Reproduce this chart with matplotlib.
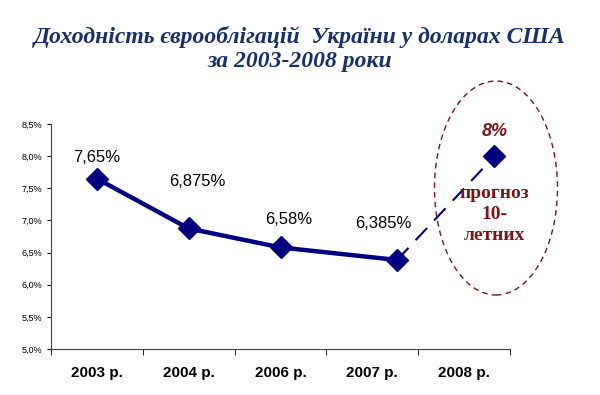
import matplotlib
matplotlib.use("Agg")
import matplotlib.pyplot as plt
import matplotlib.patches as patches

# Dati
anni = ["2003 р.", "2004 р.", "2006 р.", "2007 р.", "2008 р."]
pos_x = [0, 1, 2, 3.27, 4.33]          # i punti nell'originale non stanno al centro delle categorie
rendimento = [7.65, 6.875, 6.58, 6.385, 8.0]
etichette = ["7,65%", "6,875%", "6,58%", "6,385%"]
yticks = [5.0, 5.5, 6.0, 6.5, 7.0, 7.5, 8.0, 8.5]

navy = "#000080"
rosso = "#7B1518"

fig = plt.figure(figsize=(6, 3.95), dpi=100)
ax = fig.add_axes([0.085, 0.1165, 0.765, 0.5695])

# linea continua per i dati storici, tratteggiata per la previsione
ax.plot(pos_x[:4], rendimento[:4], color=navy, lw=3.2, marker="D", ms=11, zorder=3)
ax.plot(pos_x[3:], rendimento[3:], color=navy, lw=1.5, ls=(0, (8, 5)), zorder=2)
ax.plot(pos_x[4:], rendimento[4:], color=navy, marker="D", ms=11, ls="none", zorder=3)

# etichette dei valori
offsets = [(0, 15), (6, 34), (6, 20), (-10, 26)]
for x, y, t, (dx, dy) in zip(pos_x, rendimento, etichette, offsets):
    ax.annotate(t, (x, y), xytext=(dx, dy), textcoords="offset points",
                ha="center", va="center", fontsize=12, family="Liberation Sans")

ax.annotate("8%", (pos_x[4], rendimento[4]), xytext=(0, 18), textcoords="offset points",
            ha="center", va="center", fontsize=13, fontweight="bold", style="italic",
            color=rosso, family="Liberation Sans")
ax.annotate("прогноз\n10-\nлетних", (pos_x[4], rendimento[4]), xytext=(0, -42),
            textcoords="offset points", ha="center", va="center", fontsize=14,
            fontweight="bold", color=rosso, family="Liberation Serif", linespacing=1.3)

ax.set_xlim(-0.5, 4.5)
ax.set_ylim(5.0, 8.5)
ax.set_xticks([0, 1, 2, 3, 4])
ax.set_xticklabels(anni, fontsize=11, fontweight="bold", family="Liberation Sans")
ax.set_xticks([-0.5, 0.5, 1.5, 2.5, 3.5, 4.5], minor=True)
ax.tick_params(axis="x", which="major", length=0, pad=12)
ax.tick_params(axis="x", which="minor", length=4, direction="out")
ax.set_yticks(yticks)
ax.set_yticklabels([f"{v:.1f}%".replace(".", ",") for v in yticks], fontsize=6.5,
                   family="Liberation Sans")
ax.tick_params(axis="y", length=3, width=0.8)
for s in ["top", "right"]:
    ax.spines[s].set_visible(False)
ax.spines["left"].set_color("#444444")
ax.spines["bottom"].set_color("#444444")

# ellisse tratteggiata attorno alla previsione
ell = patches.Ellipse((496 / 600, 1 - 188 / 395), 123 / 600, 214 / 395,
                      transform=fig.transFigure, fill=False, edgecolor=rosso,
                      lw=1.0, ls=(0, (4, 3)))
fig.patches.append(ell)

# titolo
fig.text(0.5, 1 - 37 / 395, "Доходність єврооблігацій  України у доларах США",
         ha="center", va="center", fontsize=17, fontweight="bold", style="italic",
         color="#17306B", family="Liberation Serif")
fig.text(0.5, 1 - 62 / 395, "за 2003-2008 роки", ha="center", va="center",
         fontsize=17, fontweight="bold", style="italic", color="#17306B",
         family="Liberation Serif")

fig.savefig("out.png", dpi=100, facecolor="white")
